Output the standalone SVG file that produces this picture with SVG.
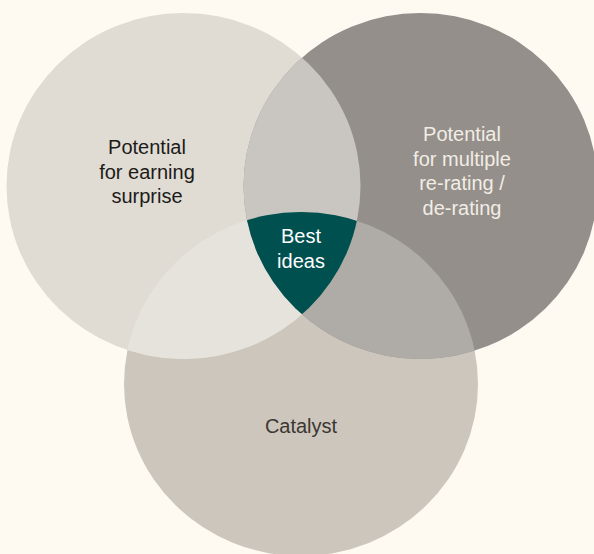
<svg xmlns="http://www.w3.org/2000/svg" width="594" height="554" viewBox="0 0 594 554">
<style>
  text { font-family: "Liberation Sans", Arial, sans-serif; font-size: 20px; text-anchor: middle; }
  .dark { fill: #1c1b1a; }
  .light { fill: #f1ede5; }
  .mid { fill: #3b3733; }
  .white { fill: #ffffff; }
</style>
<defs>
  <clipPath id="clipL"><ellipse cx="183.5" cy="186" rx="177" ry="173"/></clipPath>
  <clipPath id="clipR"><ellipse cx="420.5" cy="186" rx="177" ry="173"/></clipPath>
  <clipPath id="clipB"><ellipse cx="301" cy="384" rx="177" ry="172"/></clipPath>
</defs>
<rect x="0" y="0" width="594" height="554" fill="#fefaf2"/>
<g id="bottom-circle"><ellipse cx="301" cy="384" rx="177" ry="172" fill="#cdc6bc"/></g>
<g id="left-circle"><ellipse cx="183.5" cy="186" rx="177" ry="173" fill="#e0dcd3"/></g>
<g id="right-circle"><ellipse cx="420.5" cy="186" rx="177" ry="173" fill="#948f8a"/></g>
<g id="overlap-left-right" clip-path="url(#clipL)"><ellipse cx="420.5" cy="186" rx="177" ry="173" fill="#c9c6c2"/></g>
<g id="overlap-left-bottom" clip-path="url(#clipL)"><ellipse cx="301" cy="384" rx="177" ry="172" fill="#e6e3dd"/></g>
<g id="overlap-right-bottom" clip-path="url(#clipR)"><ellipse cx="301" cy="384" rx="177" ry="172" fill="#afaca8"/></g>
<g id="best-ideas" clip-path="url(#clipL)"><g clip-path="url(#clipR)"><ellipse cx="301" cy="384" rx="177" ry="172" fill="#00504f"/></g></g>
<g id="labels">
  <text class="dark" x="147" y="154">Potential</text>
  <text class="dark" x="147" y="179">for earning</text>
  <text class="dark" x="147" y="203">surprise</text>
  <text class="light" x="462" y="141">Potential</text>
  <text class="light" x="462" y="165.5">for multiple</text>
  <text class="light" x="462" y="190">re-rating /</text>
  <text class="light" x="462" y="214.5">de-rating</text>
  <text class="white" x="301" y="243">Best</text>
  <text class="white" x="301" y="268">ideas</text>
  <text class="mid" x="301" y="433">Catalyst</text>
</g>
</svg>
